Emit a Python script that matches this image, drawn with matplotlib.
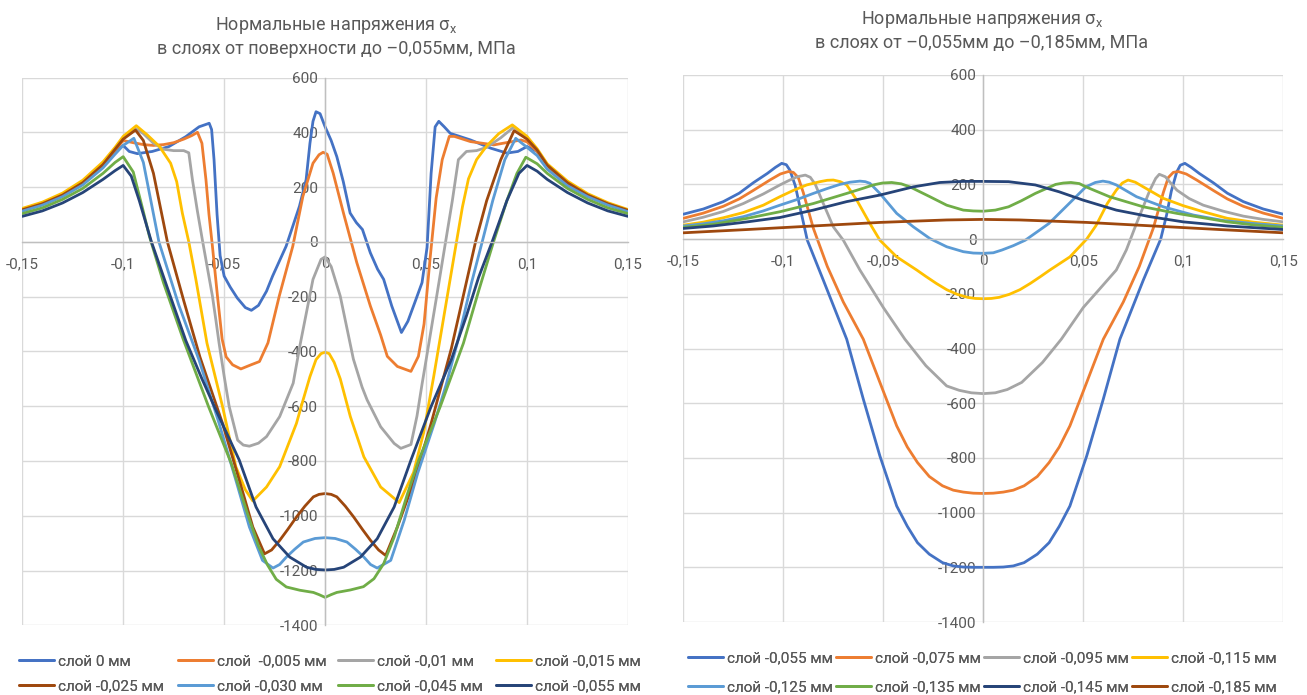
import matplotlib
matplotlib.use('Agg')
import matplotlib.pyplot as plt

plt.rcParams['font.family'] = ['Roboto', 'DejaVu Sans']
plt.rcParams['mathtext.fontset'] = 'custom'
plt.rcParams['mathtext.rm'] = 'Roboto'
plt.rcParams['mathtext.it'] = 'Roboto'

#------оси
x_ticks = [-0.15, -0.1, -0.05, 0, 0.05, 0.1, 0.15]
x_tick_labels = ['-0,15', '-0,1', '-0,05', '0', '0,05', '0,1', '0,15']
y_ticks = [600, 400, 200, 0, -200, -400, -600, -800, -1000, -1200, -1400]

colors = ['#4472C4', '#ED7D31', '#A5A5A5', '#FFC000', '#9E480E', '#5B9BD5', '#70AD47', '#264478']
colors_r = ['#4472C4', '#ED7D31', '#A5A5A5', '#FFC000', '#5B9BD5', '#70AD47', '#264478', '#9E480E']

#------левый график: слои от поверхности до -0,055 мм
left_labels = ['слой 0 мм', 'слой  -0,005 мм', 'слой -0,01 мм', 'слой -0,015 мм',
               'слой -0,025 мм', 'слой -0,030 мм', 'слой -0,045 мм', 'слой -0,055 мм']

l_x_0 = [-0.15, -0.14, -0.13, -0.12, -0.11, -0.104, -0.1, -0.097, -0.093, -0.0856,
         -0.0773, -0.069, -0.0624, -0.0585, -0.0574, -0.0562, -0.055, -0.0535, -0.052, -0.05,
         -0.047, -0.0435, -0.0395, -0.0365, -0.033, -0.029, -0.026, -0.0193, -0.0127, -0.0094,
         -0.0075, -0.006, -0.0045, -0.0025, 0, 0.003, 0.0058, 0.009, 0.0124, 0.0155,
         0.0185, 0.0224, 0.026, 0.029, 0.033, 0.0378, 0.041, 0.0445, 0.048, 0.0505,
         0.0525, 0.0545, 0.0563, 0.059, 0.062, 0.072, 0.082, 0.09, 0.0955, 0.1,
         0.105, 0.11, 0.12, 0.13, 0.14, 0.15]
l_v_0 = [118, 140, 172, 215, 280, 330, 352, 330, 322, 330,
         348, 384, 420, 430, 433, 410, 300, 100, -50, -125,
         -165, -205, -240, -250, -232, -180, -125, -16, 130, 227,
         360, 440, 475, 468, 420, 370, 311, 220, 105, 70,
         45, -40, -100, -137, -234, -331, -290, -220, -149, -20,
         250, 420, 440, 420, 396, 372, 342, 324, 330, 348,
         330, 275, 212, 172, 140, 115]

l_x_1 = [-0.15, -0.14, -0.13, -0.12, -0.11, -0.104, -0.1, -0.095, -0.09, -0.085,
         -0.08, -0.075, -0.07, -0.066, -0.0632, -0.061, -0.059, -0.0575, -0.0558, -0.0533,
         -0.051, -0.049, -0.0458, -0.0417, -0.0367, -0.0325, -0.0283, -0.0227, -0.016, -0.011,
         -0.006, -0.003, -0.001, 0.001, 0.004, 0.0091, 0.0157, 0.0224, 0.0275, 0.0308,
         0.0358, 0.0425, 0.0462, 0.049, 0.052, 0.055, 0.058, 0.0615, 0.064, 0.072,
         0.0836, 0.092, 0.097, 0.1, 0.105, 0.11, 0.12, 0.13, 0.14, 0.15]
l_v_1 = [118, 140, 173, 218, 282, 335, 370, 362, 355, 352,
         355, 362, 375, 388, 400, 360, 227, 100, -16, -198,
         -355, -420, -449, -464, -449, -437, -369, -198, -16, 166,
         287, 318, 327, 320, 251, 105, -76, -234, -340, -418,
         -455, -473, -418, -300, -60, 160, 300, 385, 385, 366,
         354, 365, 372, 365, 330, 275, 215, 173, 140, 115]

l_x_2 = [-0.15, -0.14, -0.13, -0.12, -0.11, -0.104, -0.1, -0.094, -0.09, -0.085,
         -0.08, -0.075, -0.07, -0.0675, -0.0657, -0.0633, -0.0608, -0.0583, -0.0558, -0.054,
         -0.0525, -0.05, -0.0475, -0.0433, -0.0405, -0.0375, -0.033, -0.029, -0.0225, -0.0158,
         -0.0125, -0.006, -0.002, 0, 0.003, 0.0075, 0.014, 0.0183, 0.0208, 0.0275,
         0.0342, 0.0375, 0.0425, 0.0455, 0.048, 0.0505, 0.055, 0.06, 0.063, 0.066,
         0.07, 0.075, 0.08, 0.087, 0.0936, 0.1, 0.105, 0.11, 0.12, 0.13,
         0.14, 0.15]
l_v_2 = [118, 141, 174, 220, 285, 340, 380, 414, 395, 360,
         338, 333, 333, 325, 227, 115, 8, -95, -198, -290,
         -370, -490, -601, -724, -742, -746, -735, -711, -638, -516,
         -380, -137, -64, -55, -90, -198, -428, -530, -577, -675,
         -736, -754, -740, -636, -520, -410, -210, 15, 150, 300,
         330, 333, 345, 380, 420, 380, 335, 280, 218, 172,
         140, 115]

l_x_3 = [-0.15, -0.14, -0.13, -0.12, -0.11, -0.104, -0.1, -0.0935, -0.088, -0.082,
         -0.0765, -0.0735, -0.0707, -0.0675, -0.064, -0.0585, -0.0508, -0.0442, -0.0395, -0.0358,
         -0.029, -0.0225, -0.0142, -0.011, -0.0075, -0.0045, -0.002, 0, 0.002, 0.0045,
         0.0075, 0.0125, 0.0192, 0.0275, 0.0367, 0.0438, 0.0488, 0.0538, 0.0588, 0.0638,
         0.068, 0.071, 0.075, 0.08, 0.086, 0.0927, 0.1, 0.105, 0.11, 0.12,
         0.13, 0.14, 0.15]
l_v_3 = [122, 145, 178, 225, 292, 345, 385, 424, 390, 348,
         287, 220, 105, 0, -137, -370, -601, -821, -905, -946,
         -895, -821, -663, -580, -492, -430, -408, -403, -408, -440,
         -500, -638, -785, -895, -952, -842, -697, -491, -273, -55,
         127, 230, 300, 350, 395, 427, 385, 340, 285, 222,
         176, 143, 118]

l_x_4 = [-0.15, -0.14, -0.13, -0.12, -0.11, -0.104, -0.1, -0.0939, -0.09, -0.085,
         -0.0781, -0.07, -0.062, -0.0508, -0.0425, -0.0358, -0.03, -0.0265, -0.0225, -0.0185,
         -0.0142, -0.01, -0.0058, -0.003, 0, 0.003, 0.0058, 0.01, 0.0142, 0.0185,
         0.0225, 0.0265, 0.03, 0.0358, 0.0442, 0.0525, 0.0625, 0.0745, 0.08, 0.087,
         0.0936, 0.1, 0.105, 0.11, 0.12, 0.13, 0.14, 0.15]
l_v_4 = [117, 139, 171, 216, 282, 338, 375, 408, 370, 250,
         0, -215, -420, -663, -870, -1041, -1139, -1125, -1090, -1050,
         -1005, -965, -931, -922, -919, -922, -931, -965, -1005, -1050,
         -1090, -1125, -1145, -1041, -870, -663, -390, 0, 150, 300,
         406, 375, 335, 280, 216, 171, 139, 115]

l_x_5 = [-0.15, -0.14, -0.13, -0.12, -0.11, -0.104, -0.1, -0.0947, -0.09, -0.0823,
         -0.0725, -0.0625, -0.0525, -0.0442, -0.0375, -0.031, -0.0258, -0.0225, -0.0192, -0.015,
         -0.0108, -0.005, 0, 0.005, 0.0108, 0.015, 0.0192, 0.0225, 0.0258, 0.0325,
         0.0392, 0.0458, 0.0542, 0.06, 0.0658, 0.0725, 0.0778, 0.083, 0.089, 0.0944,
         0.1, 0.105, 0.11, 0.12, 0.13, 0.14, 0.15]
l_v_5 = [112, 134, 165, 208, 270, 320, 352, 378, 290, 0,
         -230, -430, -663, -870, -1041, -1163, -1191, -1178, -1151, -1122,
         -1096, -1083, -1080, -1083, -1096, -1122, -1151, -1178, -1191, -1163,
         -1016, -846, -660, -520, -360, -150, 0, 150, 300, 378,
         345, 315, 265, 205, 165, 134, 110]

l_x_6 = [-0.15, -0.14, -0.13, -0.12, -0.11, -0.104, -0.1, -0.095, -0.09, -0.087,
         -0.08, -0.0702, -0.0578, -0.0464, -0.0381, -0.033, -0.0285, -0.0242, -0.0192, -0.0125,
         -0.0058, -0.003, 0, 0.003, 0.0058, 0.0125, 0.019, 0.0242, 0.029, 0.0342,
         0.0408, 0.0462, 0.0571, 0.0685, 0.076, 0.0834, 0.09, 0.095, 0.0994, 0.105,
         0.11, 0.12, 0.13, 0.14, 0.15]
l_v_6 = [103, 124, 155, 195, 250, 290, 311, 255, 110, 20,
         -150, -357, -600, -810, -1000, -1110, -1180, -1232, -1260, -1272,
         -1280, -1288, -1298, -1288, -1280, -1271, -1259, -1230, -1175, -1078,
         -920, -800, -600, -370, -180, 0, 150, 250, 309, 285,
         250, 195, 155, 124, 103]

l_x_7 = [-0.15, -0.14, -0.13, -0.12, -0.11, -0.104, -0.1, -0.096, -0.092, -0.086,
         -0.078, -0.069, -0.061, -0.054, -0.0425, -0.0342, -0.0258, -0.0175, -0.0092, -0.0045,
         0, 0.0045, 0.0092, 0.0175, 0.0258, 0.0342, 0.0425, 0.0525, 0.0625, 0.07,
         0.076, 0.0827, 0.09, 0.096, 0.1, 0.105, 0.11, 0.12, 0.13, 0.14,
         0.15]
l_v_7 = [93, 113, 142, 180, 228, 260, 279, 240, 150, 0,
         -170, -360, -500, -615, -797, -968, -1084, -1151, -1188, -1196,
         -1198, -1196, -1188, -1151, -1084, -968, -797, -601, -430, -270,
         -130, 0, 150, 250, 279, 258, 228, 180, 142, 113,
         93]

#------правый график: слои от -0,055 до -0,185 мм
right_labels = ['слой -0,055 мм', 'слой -0,075 мм', 'слой -0,095 мм', 'слой -0,115 мм',
                'слой -0,125 мм', 'слой -0,135 мм', 'слой -0,145 мм', 'слой -0,185 мм']

r_x_0 = [-0.15, -0.14, -0.13, -0.122, -0.115, -0.108, -0.104, -0.1008, -0.0985, -0.0967,
         -0.094, -0.0917, -0.088, -0.08, -0.0683, -0.06, -0.0517, -0.0433, -0.038, -0.0329,
         -0.027, -0.0204, -0.015, -0.01, -0.005, 0, 0.005, 0.01, 0.015, 0.0204,
         0.027, 0.0329, 0.038, 0.0433, 0.0517, 0.06, 0.0683, 0.08, 0.0887, 0.0917,
         0.094, 0.0967, 0.0985, 0.1008, 0.104, 0.108, 0.115, 0.122, 0.13, 0.14,
         0.15]
r_v_0 = [91, 110, 137, 168, 206, 240, 262, 277, 272, 252,
         195, 118, -4, -150, -366, -585, -793, -976, -1050, -1110,
         -1152, -1183, -1195, -1199, -1200, -1200, -1200, -1199, -1195, -1183,
         -1152, -1110, -1050, -976, -793, -585, -366, -150, 0, 90,
         175, 245, 270, 277, 262, 240, 206, 168, 137, 110,
         91]

r_x_1 = [-0.15, -0.14, -0.13, -0.122, -0.115, -0.1067, -0.1015, -0.0975, -0.095, -0.0925,
         -0.09, -0.0875, -0.085, -0.078, -0.07, -0.06, -0.0517, -0.0433, -0.038, -0.0329,
         -0.027, -0.0204, -0.015, -0.01, -0.005, 0, 0.005, 0.01, 0.015, 0.0204,
         0.027, 0.0329, 0.038, 0.0433, 0.0517, 0.06, 0.07, 0.078, 0.085, 0.0875,
         0.09, 0.0925, 0.095, 0.0975, 0.1015, 0.1067, 0.115, 0.122, 0.13, 0.14,
         0.15]
r_v_1 = [76, 95, 120, 147, 178, 216, 238, 247, 244, 225,
         170, 105, 40, -100, -230, -366, -524, -683, -760, -817,
         -868, -902, -918, -925, -929, -930, -929, -925, -918, -902,
         -868, -817, -760, -683, -524, -366, -230, -100, 40, 105,
         170, 225, 244, 247, 238, 216, 178, 147, 120, 95,
         76]

r_x_2 = [-0.15, -0.14, -0.13, -0.12, -0.11, -0.1017, -0.097, -0.093, -0.089, -0.0865,
         -0.084, -0.08, -0.075, -0.07, -0.0617, -0.05, -0.0392, -0.0287, -0.0183, -0.012,
         -0.006, 0, 0.006, 0.012, 0.0192, 0.0296, 0.039, 0.05, 0.0575, 0.0665,
         0.0715, 0.0766, 0.0833, 0.0862, 0.088, 0.091, 0.0968, 0.103, 0.11, 0.12,
         0.13, 0.14, 0.15]
r_v_2 = [63, 80, 101, 130, 165, 198, 215, 228, 234, 226,
         200, 130, 45, -4, -113, -250, -366, -463, -537, -553,
         -562, -565, -562, -550, -524, -451, -366, -250, -188, -113,
         -40, 57, 179, 222, 237, 228, 179, 148, 124, 102,
         84, 72, 63]

r_x_3 = [-0.15, -0.14, -0.13, -0.12, -0.11, -0.1017, -0.095, -0.0883, -0.0817, -0.078,
         -0.075, -0.0715, -0.0683, -0.0633, -0.0567, -0.0517, -0.0433, -0.0333, -0.0288, -0.0235,
         -0.0183, -0.013, -0.0079, -0.004, 0, 0.004, 0.0079, 0.013, 0.0183, 0.0235,
         0.0288, 0.0333, 0.0433, 0.0517, 0.0564, 0.062, 0.0665, 0.0695, 0.0724, 0.076,
         0.08, 0.09, 0.1, 0.11, 0.122, 0.135, 0.15]
r_v_3 = [51, 62, 78, 97, 124, 155, 178, 198, 210, 215,
         216, 210, 198, 143, 57, -4, -65, -113, -136, -162,
         -185, -202, -213, -217, -218, -217, -213, -202, -185, -162,
         -136, -113, -65, 0, 50, 130, 179, 205, 216, 208,
         191, 149, 122, 100, 76, 62, 51]

r_x_4 = [-0.15, -0.14, -0.13, -0.12, -0.11, -0.1017, -0.093, -0.085, -0.078, -0.0717,
         -0.0667, -0.0617, -0.059, -0.0567, -0.0517, -0.0433, -0.035, -0.0267, -0.0183, -0.01,
         -0.005, 0, 0.005, 0.0093, 0.015, 0.021, 0.0328, 0.0429, 0.0513, 0.056,
         0.0598, 0.063, 0.0665, 0.0766, 0.09, 0.105, 0.12, 0.135, 0.15]
r_v_4 = [48, 56, 67, 82, 103, 124, 145, 167, 185, 200,
         208, 212, 210, 204, 167, 94, 45, 2, -28, -46,
         -51, -52, -50, -40, -24, -4, 57, 130, 191, 207,
         212, 208, 198, 155, 118, 88, 68, 57, 48]

r_x_5 = [-0.15, -0.135, -0.118, -0.1017, -0.085, -0.0683, -0.06, -0.055, -0.0505, -0.0458,
         -0.041, -0.0367, -0.0267, -0.0183, -0.01, -0.005, 0, 0.006, 0.0126, 0.019,
         0.026, 0.0362, 0.04, 0.0438, 0.048, 0.0513, 0.0631, 0.08, 0.0968, 0.11,
         0.122, 0.135, 0.15]
r_v_5 = [43, 54, 76, 100, 130, 167, 186, 198, 205, 207,
         202, 191, 155, 124, 106, 103, 102, 106, 118, 140,
         167, 200, 205, 207, 203, 191, 155, 118, 94, 78,
         63, 52, 43]

r_x_6 = [-0.15, -0.135, -0.118, -0.1017, -0.085, -0.0683, -0.0517, -0.035, -0.0217, -0.01,
         0, 0.0126, 0.026, 0.0379, 0.0497, 0.0665, 0.0833, 0.1, 0.122, 0.15]
r_v_6 = [39, 48, 63, 79, 106, 137, 161, 191, 207, 211,
         211, 210, 198, 173, 143, 106, 82, 63, 48, 35]

r_x_7 = [-0.15, -0.118, -0.085, -0.0517, -0.0183, 0, 0.0183, 0.0517, 0.085, 0.118, 0.15]
r_v_7 = [23, 35, 48, 61, 70, 72, 70, 61, 48, 35, 23]

left_series = [(l_x_0, l_v_0), (l_x_1, l_v_1), (l_x_2, l_v_2), (l_x_3, l_v_3),
               (l_x_4, l_v_4), (l_x_5, l_v_5), (l_x_6, l_v_6), (l_x_7, l_v_7)]
right_series = [(r_x_0, r_v_0), (r_x_1, r_v_1), (r_x_2, r_v_2), (r_x_3, r_v_3),
                (r_x_4, r_v_4), (r_x_5, r_v_5), (r_x_6, r_v_6), (r_x_7, r_v_7)]

W, H = 1307, 695
fig = plt.figure(figsize=(W / 100, H / 100), dpi=100)
ax_l = fig.add_axes([22.2 / W, 1 - 625.3 / H, 605.8 / W, 547.8 / H])
ax_r = fig.add_axes([683.3 / W, 1 - 622 / H, 600 / W, 547 / H])


def style_axes(ax):
    ax.set_xlim(-0.15, 0.15)
    ax.set_ylim(-1400, 600)
    ax.set_xticks(x_ticks)
    ax.set_xticklabels(x_tick_labels)
    ax.set_yticks(y_ticks)
    ax.set_yticklabels([str(t) for t in y_ticks])
    ax.grid(True, color='#D9D9D9', lw=1.0, zorder=0)
    ax.set_axisbelow(True)
    for gl in ax.get_xgridlines() + ax.get_ygridlines():
        gl.set_clip_on(False)
    for s in ['top', 'right']:
        ax.spines[s].set_visible(False)
    for s in ['left', 'bottom']:
        ax.spines[s].set_position(('data', 0))
        ax.spines[s].set_color('#BFBFBF')
        ax.spines[s].set_linewidth(1.0)
    ax.tick_params(length=0, labelsize=11, labelcolor='#595959')
    ax.tick_params(axis='x', pad=11)
    ax.tick_params(axis='y', pad=5)
    ax.set_facecolor('none')


style_axes(ax_l)
style_axes(ax_r)

lines_l = []
for (xs, vs), c, lab in zip(left_series, colors, left_labels):
    ln, = ax_l.plot(xs, vs, color=c, lw=2.0, label=lab,
                    solid_joinstyle='round', solid_capstyle='round')
    lines_l.append(ln)

lines_r = []
for (xs, vs), c, lab in zip(right_series, colors_r, right_labels):
    ln, = ax_r.plot(xs, vs, color=c, lw=2.0, label=lab,
                    solid_joinstyle='round', solid_capstyle='round')
    lines_r.append(ln)

#------заголовки
fig.text(336 / W, 1 - 25 / H, 'Нормальные напряжения σ$_{\\mathrm{x}}$', ha='center', va='center',
         fontsize=13, color='#595959')
fig.text(336 / W, 1 - 49 / H, 'в слоях от поверхности до –0,055мм, МПа', ha='center', va='center',
         fontsize=13, color='#595959')
fig.text(982 / W, 1 - 19 / H, 'Нормальные напряжения σ$_{\\mathrm{x}}$', ha='center', va='center',
         fontsize=13, color='#595959')
fig.text(982 / W, 1 - 43 / H, 'в слоях от –0,055мм до –0,185мм, МПа', ha='center', va='center',
         fontsize=13, color='#595959')

#------легенды: по колонкам, как в Excel
def column_legends(lines, labels, col_px, mid_px, spacing):
    for j, xp in enumerate(col_px):
        leg = fig.legend([lines[j], lines[j + 4]], [labels[j], labels[j + 4]],
                         loc='center left', bbox_to_anchor=(xp / W, 1 - mid_px / H),
                         frameon=False, fontsize=11, labelcolor='#595959',
                         handlelength=2.3, handletextpad=0.25, borderpad=0,
                         borderaxespad=0, labelspacing=spacing)
        fig.add_artist(leg)


column_legends(lines_l, left_labels, [19, 178, 338, 496], 674, 0.72)
column_legends(lines_r, right_labels, [688, 836, 984, 1132], 672.5, 1.0)

fig.savefig('out.png', dpi=100)
